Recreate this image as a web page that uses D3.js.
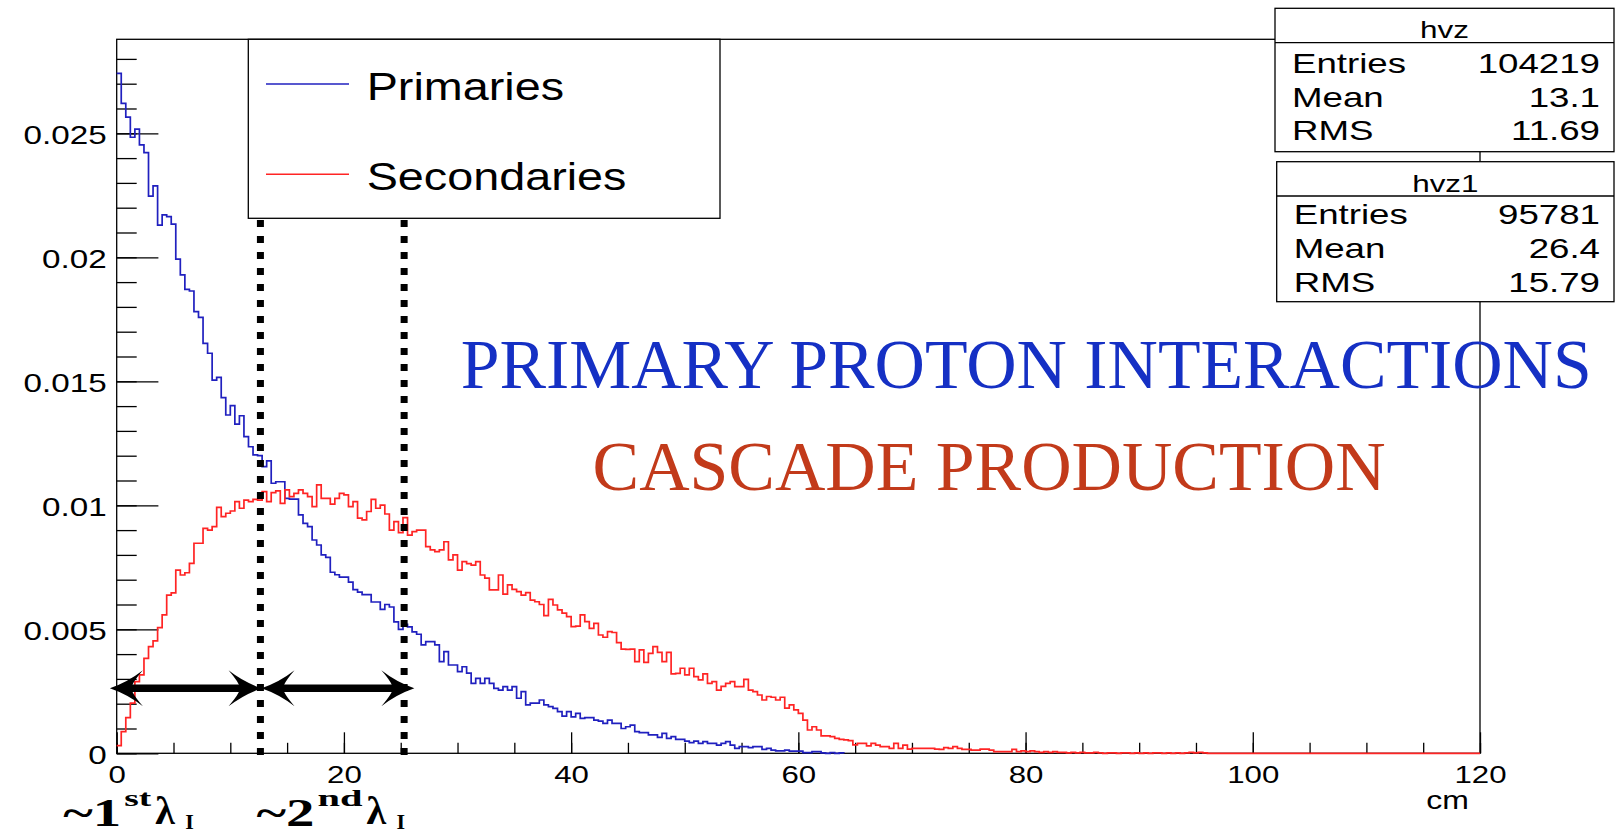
<!DOCTYPE html>
<html><head><meta charset="utf-8">
<script src="https://cdn.jsdelivr.net/npm/d3@7"></script>
<style>html,body{margin:0;padding:0;background:#fff;overflow:hidden}</style>
</head><body>
<svg id="c" width="1616" height="835"></svg>
<script>
// ---------------- data ----------------
const nBins = 300, xMin = 0, xMax = 120, yMax = 0.02879;
// primaries (hvz), bins of 0.4 cm, bins after the list are empty
const primaries = [
0.02742,0.02621,0.02565,0.02484,0.02517,0.02453,0.02422,0.02247,0.02288,0.02130,
0.02171,0.02164,0.02134,0.01993,0.01929,0.01871,0.01864,0.01781,0.01758,0.01653,
0.01613,0.01505,0.01516,0.01434,0.01364,0.01402,0.01327,0.01361,0.01277,0.01236,
0.01203,0.01200,0.01156,0.01179,0.01089,0.01095,0.01095,0.01028,0.01025,0.01025,
0.00961,0.00927,0.00914,0.00860,0.00840,0.00800,0.00790,0.00730,0.00720,0.00710,
0.00710,0.00690,0.00660,0.00650,0.00640,0.00640,0.00610,0.00610,0.00580,0.00600,
0.00590,0.00530,0.00500,0.00520,0.00510,0.00490,0.00480,0.00437,0.00450,0.00450,
0.00437,0.00370,0.00410,0.00356,0.00356,0.00329,0.00349,0.00323,0.00282,0.00302,
0.00282,0.00302,0.00282,0.00262,0.00255,0.00269,0.00255,0.00269,0.00222,0.00249,
0.00195,0.00202,0.00202,0.00215,0.00195,0.00188,0.00181,0.00168,0.00150,0.00168,
0.00147,0.00161,0.00141,0.00144,0.00144,0.00134,0.00130,0.00121,0.00134,0.00121,
0.00121,0.00100,0.00107,0.00114,0.00087,0.00083,0.00083,0.00074,0.00074,0.00064,
0.00080,0.00060,0.00067,0.00056,0.00056,0.00049,0.00043,0.00049,0.00040,0.00047,
0.00040,0.00040,0.00033,0.00040,0.00047,0.00033,0.00020,0.00027,0.00027,0.00023,
0.00027,0.00027,0.00016,0.00020,0.00013,0.00010,0.00010,0.00013,0.00009,0.00009,
0.00009,0.00003,0.00003,0.00007,0.00007,0.00002,0,0.00003,0,0.00002
];
// secondaries (hvz1)
const secondaries = [
0.00031,0.00087,0.00144,0.00202,0.00289,0.00316,0.00383,0.00430,0.00453,0.00507,
0.00558,0.00638,0.00647,0.00739,0.00719,0.00728,0.00766,0.00847,0.00847,0.00907,
0.00900,0.00914,0.00992,0.00954,0.00968,0.00977,0.01015,0.00988,0.01021,0.01015,
0.01024,0.01021,0.01055,0.01015,0.01051,0.01058,0.01008,0.01062,0.01035,0.01048,
0.01062,0.01048,0.01035,0.00995,0.01082,0.01028,0.01028,0.01005,0.01028,0.01048,
0.01042,0.00995,0.01015,0.00948,0.00941,0.00975,0.01024,0.00988,0.01001,0.00965,
0.00900,0.00934,0.00890,0.00950,0.00880,0.00894,0.00900,0.00900,0.00833,0.00820,
0.00813,0.00820,0.00853,0.00780,0.00800,0.00739,0.00773,0.00765,0.00759,0.00773,
0.00719,0.00706,0.00659,0.00659,0.00719,0.00642,0.00679,0.00661,0.00652,0.00638,
0.00648,0.00618,0.00611,0.00600,0.00555,0.00621,0.00598,0.00578,0.00565,0.00551,
0.00511,0.00513,0.00558,0.00531,0.00504,0.00524,0.00477,0.00468,0.00491,0.00487,
0.00446,0.00420,0.00419,0.00420,0.00370,0.00417,0.00367,0.00403,0.00430,0.00407,
0.00370,0.00407,0.00320,0.00322,0.00343,0.00316,0.00343,0.00309,0.00296,0.00320,
0.00282,0.00289,0.00255,0.00270,0.00282,0.00289,0.00269,0.00269,0.00298,0.00255,
0.00249,0.00235,0.00215,0.00229,0.00226,0.00215,0.00226,0.00182,0.00195,0.00175,
0.00161,0.00134,0.00094,0.00107,0.00094,0.00070,0.00070,0.00067,0.00060,0.00056,
0.00054,0.00051,0.00034,0.00040,0.00040,0.00030,0.00040,0.00033,0.00027,0.00027,
0.00020,0.00040,0.00020,0.00033,0.00017,0.00020,0.00020,0.00020,0.00020,0.00020,
0.00017,0.00016,0.00023,0.00020,0.00027,0.00020,0.00016,0.00016,0.00013,0.00013,
0.00017,0.00017,0.00013,0.00007,0.00007,0.00007,0.00007,0.00016,0.00007,0.00010,
0.00007,0.00010,0.00007,0.00004,0.00007,0.00004,0.00007,0.00004,0.00004,0.00002,
0.00004,0.00002,0.00004,0.00002,0.00002,0.00004,0.00002,0,0.00002,0.00002,
0,0.00002,0.00002,0,0.00002,0,0.00002,0,0.00002,0.00002,
0,0.00002,0,0.00002,0,0.00002,0.00004,0.00002,0.00004,0.00002
];
const seriesNames = ["Primaries", "Secondaries"];
const yMajorTicks = [0, 0.005, 0.01, 0.015, 0.02, 0.025];
const yTickLabels = ["0", "0.005", "0.01", "0.015", "0.02", "0.025"];
const yMinorStep = 0.001;
const xMajorTicks = [0, 20, 40, 60, 80, 100, 120];
const xTickLabels = ["0", "20", "40", "60", "80", "100", "120"];
const xMinorStep = 5;
const xTitle = "cm";
const statsTitles = ["hvz", "hvz1"];
const statsLabels = ["Entries", "Mean", "RMS"];
const statsPrimaries = ["104219", "13.1", "11.69"];
const statsSecondaries = ["95781", "26.4", "15.79"];
const lambdaPositions = [12.65, 25.3];          // cm
const arrowLevel = 0.00262;
const arrowSpans = [[-0.6, 12.75], [12.75, 26.2]];
const lambdaLabels = [["~1", "st"], ["~2", "nd"]];
const headline1 = "PRIMARY PROTON INTERACTIONS";
const headline2 = "CASCADE PRODUCTION";

// ---------------- layout ----------------
const svg = d3.select("#c");
const M = {left: 116.7, right: 1480, top: 39.3, bottom: 753.3};
const x = d3.scaleLinear().domain([xMin, xMax]).range([M.left, M.right]);
const y = d3.scaleLinear().domain([0, yMax]).range([M.bottom, M.top]);
const SANS = "'Liberation Sans', Arial, Helvetica, sans-serif";
const SERIF = "'Liberation Serif', 'Times New Roman', serif";
const BLUE = "#2020bf", RED = "#ff2424";

svg.append("rect").attr("width", 1616).attr("height", 835).attr("fill", "#fff");

// frame
svg.append("rect").attr("x", M.left).attr("y", M.top)
  .attr("width", M.right - M.left).attr("height", M.bottom - M.top)
  .attr("fill", "none").attr("stroke", "#000").attr("stroke-width", 1.3);

// axes
function styleText(sel, size) {
  sel.selectAll("text").attr("font-family", SANS).attr("font-size", size).attr("fill", "#000");
}
const yMinor = d3.axisLeft(y).tickValues(d3.range(0, yMax, yMinorStep)).tickSizeInner(-20).tickSizeOuter(0).tickFormat("");
const yMajor = d3.axisLeft(y).tickValues(yMajorTicks).tickFormat((d, i) => yTickLabels[i])
  .tickSizeInner(-41.7).tickSizeOuter(0).tickPadding(10);
const gy1 = svg.append("g").attr("transform", `translate(${M.left},0)`).call(yMinor);
const gy2 = svg.append("g").attr("transform", `translate(${M.left},0)`).call(yMajor);
[gy1, gy2].forEach(g => { g.select(".domain").remove(); g.selectAll("line").attr("stroke", "#000").attr("stroke-width", 1.3); });
styleText(gy2, 25);
gy2.selectAll("text").attr("x", -10 / 1.33).attr("dy", "0.42em").attr("transform", "scale(1.33,1)");

const xMinor = d3.axisBottom(x).tickValues(d3.range(xMin, xMax + 0.1, xMinorStep)).tickSizeInner(-10.5).tickSizeOuter(0).tickFormat("");
const xMajor = d3.axisBottom(x).tickValues(xMajorTicks).tickFormat((d, i) => xTickLabels[i])
  .tickSizeInner(-21).tickSizeOuter(0).tickPadding(13);
const gx1 = svg.append("g").attr("transform", `translate(0,${M.bottom})`).call(xMinor);
const gx2 = svg.append("g").attr("transform", `translate(0,${M.bottom})`).call(xMajor);
[gx1, gx2].forEach(g => { g.select(".domain").remove(); g.selectAll("line").attr("stroke", "#000").attr("stroke-width", 1.3); });
styleText(gx2, 24);
gx2.selectAll("text").attr("transform", "scale(1.3,1)");

svg.append("text").attr("transform", `translate(${x(xMax) - 11},${M.bottom + 56}) scale(1.28,1)`)
  .attr("font-family", SANS).attr("font-size", 25).attr("text-anchor", "end").text(xTitle);

// histograms
const binW = (xMax - xMin) / nBins;
function histPoints(vals) {
  const pts = [];
  for (let i = 0; i < nBins; i++) pts.push([xMin + i * binW, i < vals.length ? vals[i] : 0]);
  pts.push([xMax, 0]);
  return pts;
}
const stepLine = d3.line().x(d => x(d[0])).y(d => y(d[1])).curve(d3.curveStepAfter);
const primPts = histPoints(primaries).slice(0, primaries.length + 1);
svg.append("path").attr("d", stepLine(primPts)).attr("fill", "none").attr("stroke", BLUE).attr("stroke-width", 1.7);
svg.append("path").attr("d", stepLine(histPoints(secondaries))).attr("fill", "none").attr("stroke", RED).attr("stroke-width", 1.7);

// lambda lines
lambdaPositions.forEach(p => {
  svg.append("line").attr("x1", x(p)).attr("x2", x(p)).attr("y1", 220).attr("y2", M.bottom + 4)
    .attr("stroke", "#000").attr("stroke-width", 7).attr("stroke-dasharray", "7,9");
});

// double arrows
function head(tipX, dir, yy) {
  const L = 33 * dir, h = 18, n = 22 * dir;
  return `M${tipX},${yy} Q${tipX + L * 0.55},${yy - h * 0.35} ${tipX + L},${yy - h} Q${tipX + n * 0.95},${yy - 4} ${tipX + n},${yy} Q${tipX + n * 0.95},${yy + 4} ${tipX + L},${yy + h} Q${tipX + L * 0.55},${yy + h * 0.35} ${tipX},${yy} Z`;
}
arrowSpans.forEach(([a, b]) => {
  const ya = y(arrowLevel), xa = x(a), xb = x(b);
  svg.append("line").attr("x1", xa + 15).attr("x2", xb - 15).attr("y1", ya).attr("y2", ya)
    .attr("stroke", "#000").attr("stroke-width", 7.5);
  svg.append("path").attr("d", head(xa, 1, ya)).attr("fill", "#000");
  svg.append("path").attr("d", head(xb, -1, ya)).attr("fill", "#000");
});

// lambda labels below axis
const labelStarts = [-4.7, 12.3];
lambdaLabels.forEach(([big, sup], i) => {
  const x0 = x(labelStarts[i]);
  const g = svg.append("g").attr("font-family", SERIF).attr("font-weight", "bold").attr("fill", "#000");
  const wBig = 58, wSup = i === 0 ? 27 : 45;
  g.append("text").attr("x", x0).attr("y", 826).attr("font-size", 40).attr("textLength", wBig).attr("lengthAdjust", "spacingAndGlyphs").text(big);
  g.append("text").attr("x", x0 + wBig + 3).attr("y", 806).attr("font-size", 24).attr("textLength", wSup).attr("lengthAdjust", "spacingAndGlyphs").text(sup);
  const xl = x0 + wBig + wSup + 7;
  g.append("text").attr("x", xl).attr("y", 824).attr("font-size", 40).text("λ");
  g.append("text").attr("x", xl + 30).attr("y", 829).attr("font-size", 22).text("I");
});

// headlines
svg.append("text").attr("x", 460.7).attr("y", 388.3).attr("font-family", SERIF).attr("font-size", 70)
  .attr("fill", "#1530c4").attr("textLength", 1131).attr("lengthAdjust", "spacingAndGlyphs").text(headline1);
svg.append("text").attr("x", 592.6).attr("y", 490).attr("font-family", SERIF).attr("font-size", 70)
  .attr("fill", "#c23a1a").attr("textLength", 793).attr("lengthAdjust", "spacingAndGlyphs").text(headline2);

// legend
const leg = svg.append("g");
leg.append("rect").attr("x", 248.3).attr("y", M.top).attr("width", 720 - 248.3).attr("height", 218.3 - M.top)
  .attr("fill", "#fff").attr("stroke", "#000").attr("stroke-width", 1.3);
[[BLUE, 84, 100], [RED, 174.3, 190]].forEach(([c, ly, ty], i) => {
  leg.append("line").attr("x1", 266).attr("x2", 349).attr("y1", ly).attr("y2", ly).attr("stroke", c).attr("stroke-width", 1.5);
  leg.append("text").attr("transform", `translate(366.7,${ty}) scale(1.23,1)`).attr("font-family", SANS)
    .attr("font-size", 38).text(seriesNames[i]);
});

// stats boxes
function statsBox(bx, by, bw, hh, bh, title, vals, rows) {
  const g = svg.append("g");
  g.append("rect").attr("x", bx).attr("y", by).attr("width", bw).attr("height", bh)
    .attr("fill", "#fff").attr("stroke", "#000").attr("stroke-width", 1.3);
  g.append("line").attr("x1", bx).attr("x2", bx + bw).attr("y1", by + hh).attr("y2", by + hh).attr("stroke", "#000").attr("stroke-width", 1.3);
  g.append("text").attr("transform", `translate(${bx + bw / 2},${by + hh - 4.5}) scale(1.31,1)`).attr("font-family", SANS)
    .attr("font-size", 24).attr("text-anchor", "middle").text(title);
  statsLabels.forEach((lab, i) => {
    g.append("text").attr("transform", `translate(${bx + 17},${rows[i]}) scale(1.31,1)`).attr("font-family", SANS)
      .attr("font-size", 28).text(lab);
    g.append("text").attr("transform", `translate(${bx + bw - 14},${rows[i]}) scale(1.31,1)`).attr("font-family", SANS)
      .attr("font-size", 28).attr("text-anchor", "end").text(vals[i]);
  });
}
statsBox(1275, 8.3, 339, 34.4, 143.4, statsTitles[0], statsPrimaries, [72.7, 106.7, 140]);
statsBox(1276.7, 161.7, 337.3, 34.3, 140, statsTitles[1], statsSecondaries, [224, 258, 292]);
</script>
</body></html>
